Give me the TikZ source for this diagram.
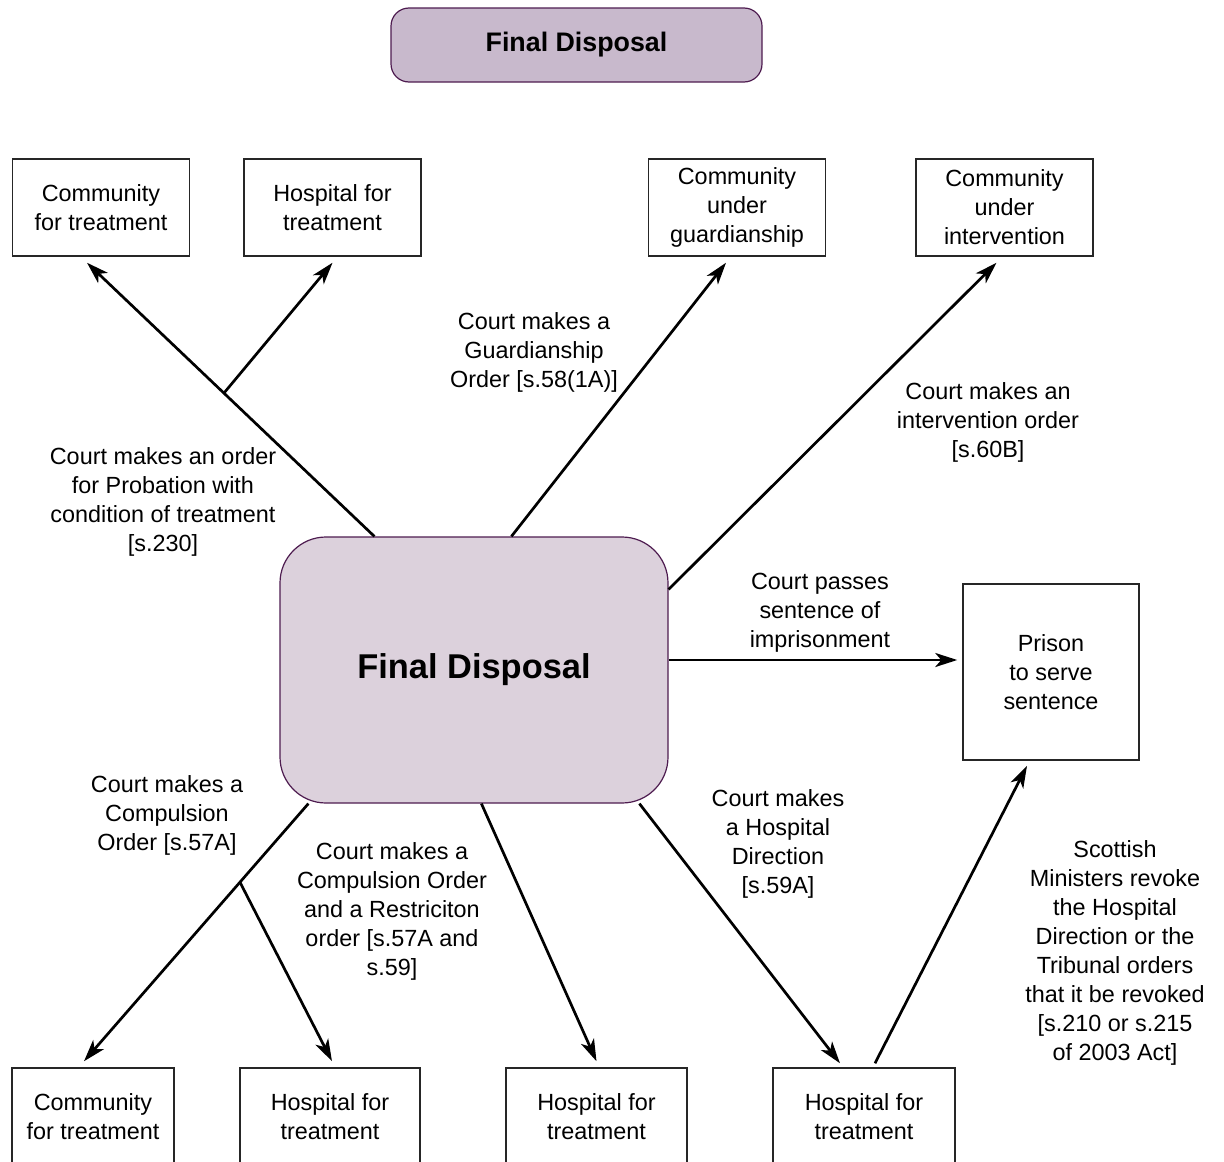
\documentclass[tikz,border=0pt]{standalone}
\usepackage{fontspec}
\setmainfont{Liberation Sans}
\usetikzlibrary{arrows.meta,calc}
\definecolor{plumedge}{HTML}{4E1C50}
\definecolor{plumtitle}{HTML}{C8B9CC}
\definecolor{plumcore}{HTML}{DCD1DC}
\newcommand\lblfont{\fontsize{23.4}{29}\selectfont}
\tikzset{
  box/.style={draw=black!85, line width=1.5pt, minimum width=177pt, minimum height=97pt,
    inner sep=0pt, align=center, font=\lblfont},
  lbl/.style={align=center, font=\lblfont, inner sep=0pt},
  arr/.style={line width=2.7pt, -{Stealth[length=22pt,width=14pt,inset=6pt]}},
  ln/.style={line width=2.7pt}
}
\begin{document}
\begin{tikzpicture}[x=1pt,y=-1pt]
\useasboundingbox (0,0) rectangle (1224,1162);
\clip (0,0) rectangle (1224,1162);
\fill[white] (0,0) rectangle (1224,1162);

% heading and central disposal box
\node[draw=plumedge, fill=plumtitle, line width=1.2pt, rounded corners=18pt,
  minimum width=371pt, minimum height=74pt, font=\fontsize{26.8}{30}\selectfont\bfseries]
  (title) at (576.5,45) {Final Disposal};
\node[draw=plumedge, fill=plumcore, line width=1.2pt, rounded corners=46pt,
  minimum width=388pt, minimum height=266pt, font=\fontsize{34.4}{40}\selectfont\bfseries]
  (c) at (474,670) {Final Disposal};

% outcome boxes, upper row
\node[box] (t1) at (101,207.5) {Community\\for treatment};
\node[box] (t2) at (332.5,207.5) {Hospital for\\treatment};
\node[box] (t3) at (737,207.5) {Community\\under\\guardianship};
\node[box] (t4) at (1004.5,207.5) {Community\\under\\intervention};

% prison
\node[box, minimum width=176pt, minimum height=176pt] (pr) at (1051,672) {Prison\\to serve\\sentence};

% outcome boxes, lower row
\node[box, minimum width=162pt] (b1) at (93,1116.5) {Community\\for treatment};
\node[box, minimum width=180pt] (b2) at (330,1116.5) {Hospital for\\treatment};
\node[box, minimum width=181pt] (b3) at (596.5,1116.5) {Hospital for\\treatment};
\node[box, minimum width=182pt] (b4) at (864,1116.5) {Hospital for\\treatment};

% connector end points
\coordinate (s1) at ($(c.north west)+(95,0)$);
\coordinate (e1) at ($(t1.south)+(-14,6)$);
\coordinate (j1) at ($(s1)!0.5236!(e1)$);
\coordinate (s2) at ($(c.north west)+(232,0)$);
\coordinate (s3) at ($(c.north east)+(0,53)$);
\coordinate (s4) at ($(c.east)+(0,-10)$);
\coordinate (s5) at ($(c.south west)+(29,0)$);
\coordinate (e5) at ($(b1.north)+(-9,-6)$);
\coordinate (j5) at ($(s5)!0.305!(e5)$);
\coordinate (s6) at ($(c.south west)+(202,0)$);
\coordinate (s7) at ($(c.south west)+(360,0)$);
\coordinate (r1) at ($(b4.north)+(11,-4)$);

% connectors
\draw[arr] (s1) -- (e1);
\draw[arr] (j1) -- ($(t2.south)+(0,6)$);
\draw[arr] (s2) -- ($(t3.south)+(-11,6)$);
\draw[arr] (s3) -- ($(t4.south)+(-8,6)$);
\draw[arr] (s4) -- ($(pr.west)+(-5,-12)$);
\draw[arr] (s5) -- (e5);
\draw[arr] (j5) -- ($(b2.north)+(2,-6)$);
\draw[arr] (s6) -- ($(b3.north)+(0,-6)$);
\draw[arr] (s7) -- ($(b4.north)+(-24,-4)$);
\draw[arr] (r1) -- ($(pr.south)+(-24,5)$);

% connector labels
\node[lbl] (l1) at (163,501.5) {Court makes an order\\for Probation with\\condition of treatment\\{}[s.230]};
\node[lbl] (l2) at (534,352.5) {Court makes a\\Guardianship\\Order [s.58(1A)]};
\node[lbl] (l3) at (988,422) {Court makes an\\intervention order\\{}[s.60B]};
\node[lbl] (l4) at (820,612.5) {Court passes\\sentence of\\imprisonment};
\node[lbl] (l5) at (167,815) {Court makes a\\Compulsion\\Order [s.57A]};
\node[lbl] (l6) at (392,911) {Court makes a\\Compulsion Order\\and a Restriciton\\order [s.57A and\\s.59]};
\node[lbl] (l7) at (778,843.5) {Court makes\\a Hospital\\Direction\\{}[s.59A]};
\node[lbl] (l8) at (1115,952.5) {Scottish\\Ministers revoke\\the Hospital\\Direction or the\\Tribunal orders\\that it be revoked\\{}[s.210 or s.215\\of 2003 Act]};
\end{tikzpicture}
\end{document}
